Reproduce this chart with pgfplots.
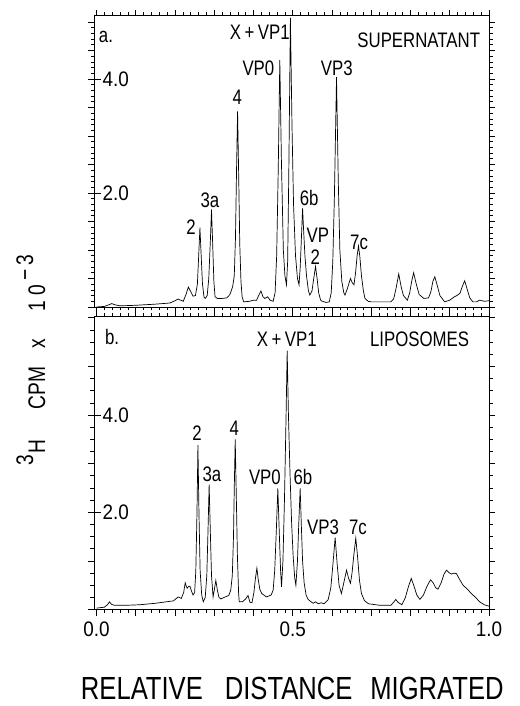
\documentclass[border=0pt]{standalone}
\usepackage{pgfplots}
\pgfplotsset{compat=1.18}
\usepackage{fontspec}
\setmainfont{Liberation Sans}
\newfontfamily\lf{Liberation Sans}[FakeStretch=0.8]
\newfontfamily\lfw{Liberation Sans}[FakeStretch=0.9]
\newcommand\ystub{\rule[0.33em]{13bp}{0.7bp}\hspace{1.5bp}}

\pgfplotstableread{
x y
0.000 0.00
0.020 0.01
0.032 0.04
0.039 0.06
0.046 0.04
0.060 0.02
0.100 0.03
0.150 0.05
0.187 0.07
0.200 0.11
0.208 0.14
0.214 0.12
0.221 0.10
0.228 0.22
0.234 0.35
0.240 0.27
0.246 0.19
0.252 0.20
0.257 0.40
0.260 0.85
0.2635 1.39
0.267 0.85
0.270 0.40
0.274 0.17
0.277 0.15
0.282 0.20
0.286 0.50
0.290 1.15
0.293 1.71
0.296 1.10
0.299 0.45
0.302 0.18
0.308 0.15
0.320 0.15
0.332 0.16
0.340 0.22
0.347 0.36
0.351 0.55
0.354 1.20
0.357 2.50
0.3594 3.43
0.362 2.40
0.365 1.10
0.368 0.45
0.371 0.18
0.375 0.09
0.390 0.10
0.400 0.12
0.408 0.12
0.413 0.20
0.419 0.28
0.424 0.18
0.429 0.15
0.436 0.18
0.442 0.12
0.450 0.10
0.455 0.25
0.459 0.90
0.463 2.40
0.467 4.33
0.471 2.60
0.476 1.00
0.480 0.55
0.484 0.39
0.487 0.80
0.490 2.40
0.494 5.07
0.498 3.20
0.502 1.80
0.507 0.90
0.512 0.50
0.516 0.39
0.519 0.70
0.522 1.20
0.525 1.73
0.528 1.30
0.531 0.90
0.535 0.55
0.540 0.28
0.5435 0.21
0.549 0.28
0.553 0.48
0.558 0.71
0.562 0.50
0.566 0.25
0.571 0.12
0.575 0.10
0.585 0.08
0.593 0.09
0.598 0.25
0.602 0.80
0.606 1.90
0.6115 4.03
0.616 2.20
0.620 1.00
0.625 0.45
0.630 0.25
0.633 0.21
0.639 0.32
0.647 0.50
0.652 0.42
0.656 0.39
0.660 0.60
0.664 0.90
0.6675 1.07
0.671 0.88
0.675 0.55
0.680 0.28
0.684 0.15
0.692 0.10
0.700 0.09
0.720 0.09
0.750 0.09
0.757 0.14
0.763 0.32
0.770 0.58
0.776 0.36
0.782 0.20
0.792 0.12
0.798 0.25
0.803 0.45
0.808 0.60
0.814 0.42
0.822 0.22
0.834 0.15
0.846 0.16
0.852 0.27
0.857 0.45
0.862 0.53
0.868 0.38
0.875 0.20
0.887 0.09
0.900 0.12
0.912 0.18
0.918 0.20
0.926 0.24
0.932 0.36
0.938 0.46
0.944 0.32
0.951 0.16
0.959 0.09
0.968 0.09
0.976 0.12
0.988 0.10
1.000 0.11
}\tablea

\pgfplotstableread{
x y
0.000 0.03
0.020 0.05
0.028 0.10
0.033 0.16
0.038 0.11
0.045 0.09
0.080 0.09
0.111 0.10
0.150 0.13
0.196 0.18
0.208 0.26
0.216 0.23
0.222 0.35
0.226 0.55
0.229 0.47
0.231 0.44
0.235 0.48
0.238 0.48
0.242 0.38
0.246 0.30
0.250 0.35
0.253 0.80
0.256 2.00
0.2584 3.38
0.261 2.00
0.264 0.80
0.268 0.30
0.272 0.16
0.277 0.25
0.281 0.70
0.284 1.60
0.287 2.57
0.290 1.60
0.293 0.70
0.297 0.26
0.300 0.40
0.304 0.60
0.308 0.40
0.312 0.25
0.317 0.22
0.325 0.25
0.337 0.29
0.342 0.40
0.346 0.70
0.349 1.50
0.351 2.50
0.3534 3.50
0.356 2.40
0.359 1.10
0.362 0.35
0.3636 0.16
0.372 0.16
0.380 0.22
0.386 0.29
0.391 0.15
0.396 0.14
0.401 0.35
0.405 0.65
0.4086 0.85
0.412 0.62
0.416 0.42
0.421 0.33
0.433 0.26
0.445 0.30
0.450 0.40
0.454 0.80
0.458 1.60
0.462 2.49
0.466 1.50
0.469 0.80
0.4714 0.47
0.475 1.00
0.479 2.30
0.483 4.00
0.4858 5.32
0.489 4.00
0.493 2.80
0.497 1.80
0.501 1.10
0.505 0.65
0.508 0.50
0.512 1.00
0.515 1.70
0.5189 2.49
0.522 1.70
0.525 1.00
0.529 0.55
0.534 0.30
0.539 0.21
0.545 0.17
0.552 0.13
0.558 0.16
0.565 0.12
0.572 0.14
0.580 0.12
0.590 0.20
0.597 0.45
0.602 0.90
0.608 1.48
0.613 0.95
0.618 0.50
0.624 0.33
0.630 0.55
0.637 0.81
0.642 0.65
0.647 0.54
0.651 0.75
0.656 1.15
0.6606 1.47
0.665 1.10
0.670 0.60
0.675 0.33
0.683 0.18
0.693 0.12
0.720 0.09
0.750 0.09
0.757 0.15
0.7625 0.21
0.768 0.15
0.778 0.10
0.787 0.25
0.795 0.48
0.802 0.64
0.809 0.48
0.816 0.30
0.824 0.21
0.833 0.30
0.842 0.48
0.851 0.61
0.858 0.55
0.864 0.45
0.870 0.42
0.878 0.55
0.886 0.74
0.892 0.81
0.898 0.76
0.904 0.73
0.911 0.75
0.917 0.74
0.925 0.62
0.934 0.50
0.945 0.42
0.955 0.33
0.966 0.25
0.976 0.16
0.988 0.10
1.000 0.07
}\tableb

\pgfplotsset{
  panel/.style={
    scale only axis, width=395bp,
    xmin=-0.0064, xmax=1.0, ymin=0,
    xtick={0,0.1,0.2,0.3,0.4,0.5,0.6,0.7,0.8,0.9,1},
    minor x tick num=4,
    tick align=outside,
    tick pos=both,
    major tick length=6bp, minor tick length=3.5bp,
    tick style={black, line width=0.6bp},
    axis line style={line width=0.8bp},
    yticklabel style={anchor=west, inner sep=0pt, font=\lfw\fontsize{21bp}{21bp}\selectfont},
    xticklabel style={font=\lfw\fontsize{21bp}{21bp}\selectfont},
  },
}
\tikzset{ann/.style={font=\lf\fontsize{21bp}{21bp}\selectfont, inner sep=0pt, anchor=center}}

\begin{document}
\begin{tikzpicture}
\useasboundingbox (0,0) rectangle (520bp,706bp);
% panel a
\begin{axis}[panel, at={(94bp,399bp)}, anchor=south west, height=291.3bp,
  ymax=5.11, ytick={0,0.5,...,5}, minor y tick num=4,
  yticklabels={,,,,\ystub 2.0,,,,\ystub 4.0,,}, xticklabels={}]
\addplot[black, line width=0.7bp] table[x=x,y=y] {\tablea};
\node[ann] at (axis cs:0.024,4.74) {a.};
\node[ann] at (axis cs:0.821,4.68) {SUPERNATANT};
\node[ann] at (axis cs:0.416,4.82) {X\,+\,VP1};
\node[ann] at (axis cs:0.4125,4.19) {VP0};
\node[ann] at (axis cs:0.359,3.68) {4};
\node[ann] at (axis cs:0.612,4.19) {VP3};
\node[ann] at (axis cs:0.289,1.88) {3a};
\node[ann] at (axis cs:0.2406,1.40) {2};
\node[ann] at (axis cs:0.5418,1.91) {6b};
\node[ann] at (axis cs:0.564,1.25) {VP};
\node[ann] at (axis cs:0.5575,0.88) {2};
\node[ann] at (axis cs:0.669,1.14) {7c};
\end{axis}
% panel b
\begin{axis}[panel, at={(94bp,96.4bp)}, anchor=south west, height=292.9bp,
  ymax=6.02, ytick={0,1,2,3,4,5,6}, minor y tick num=3,
  yticklabels={,,\ystub 2.0,,\ystub 4.0,,},
  xticklabels={0.0,,,,,0.5,,,,,1.0},
  xticklabel style={anchor=north, inner sep=0pt, yshift=-6bp},
  xlabel={RELATIVE\hspace{22bp}DISTANCE\hspace{18bp}MIGRATED},
  xlabel style={at={(axis description cs:0.502,-0.268)}, anchor=center, inner sep=0pt,
    font=\lf\fontsize{32bp}{32bp}\selectfont},
  ylabel={\raisebox{12bp}{3}\hspace{1bp}H\hspace{30bp}CPM\hspace{18bp}x\hspace{28bp}1\hspace{5bp}0\hspace{4bp}\raisebox{12bp}{−\hspace{4bp}3}},
  ylabel style={at={(axis description cs:-0.124,0.852)}, anchor=base, inner sep=0pt,
    font=\lf\fontsize{24bp}{24bp}\selectfont}]
\addplot[black, line width=0.7bp] table[x=x,y=y] {\tableb};
\node[ann] at (axis cs:0.0395,5.60) {b.};
\node[ann] at (axis cs:0.823,5.56) {LIPOSOMES};
\node[ann] at (axis cs:0.485,5.56) {X\,+\,VP1};
\node[ann] at (axis cs:0.256,3.63) {2};
\node[ann] at (axis cs:0.351,3.73) {4};
\node[ann] at (axis cs:0.294,2.79) {3a};
\node[ann] at (axis cs:0.429,2.73) {VP0};
\node[ann] at (axis cs:0.526,2.73) {6b};
\node[ann] at (axis cs:0.577,1.70) {VP3};
\node[ann] at (axis cs:0.666,1.70) {7c};
\end{axis}
\end{tikzpicture}
\end{document}
